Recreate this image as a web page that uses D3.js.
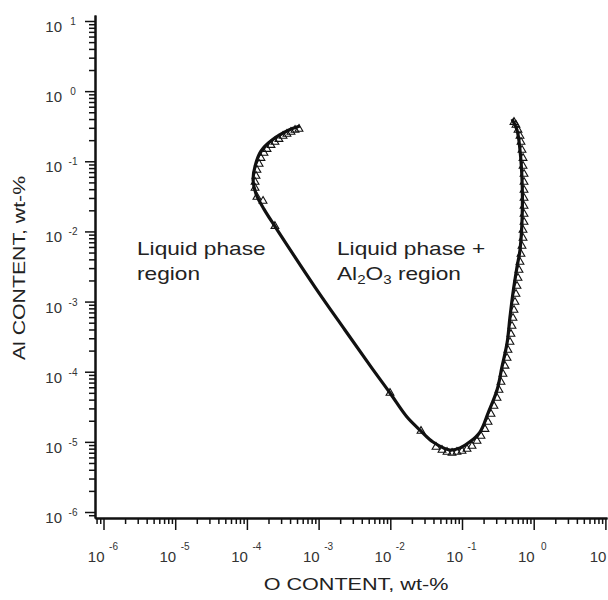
<!DOCTYPE html>
<html>
<head>
<meta charset="utf-8">
<script src="https://cdn.jsdelivr.net/npm/d3@7"></script>
<style>
  body { margin: 0; background: #fff; }
  svg { display: block; }
  text { font-family: "Liberation Sans", Arial, sans-serif; }
</style>
</head>
<body>
<div id="chart"></div>
<script>
// calculated solubility curve (wt-%)
var curveO = [5.5e-4, 3.86e-4, 2.24e-4, 1.57e-4, 1.30e-4, 1.22e-4, 1.34e-4, 1.73e-4, 2.55e-4,
    8.9e-4, 2.33e-3, 5.38e-3, 9.9e-3, 0.0171, 0.026, 0.0394, 0.068, 0.0938, 0.129, 0.178,
    0.231, 0.308, 0.361, 0.425, 0.467, 0.514, 0.585, 0.644, 0.69, 0.69, 0.644, 0.585, 0.498];
var curveAl = [0.318, 0.279, 0.201, 0.140, 0.0855, 0.054, 0.0341, 0.0208, 0.01117,
    1.61e-3, 3.93e-4, 1.17e-4, 4.97e-5, 2.26e-5, 1.47e-5, 9.96e-6, 7.66e-6, 8.17e-6, 1.0e-5, 1.38e-5,
    2.58e-5, 5.48e-5, 1.17e-4, 2.56e-4, 6.03e-4, 1.33e-3, 3.11e-3, 5.43e-3, 0.016, 0.049, 0.1445, 0.279, 0.40];

// triangle markers (wt-%)
var triO = [1.30e-4, 1.30e-4, 1.34e-4, 1.38e-4, 1.48e-4, 1.57e-4, 1.73e-4, 1.91e-4, 2.17e-4, 2.46e-4,
    2.80e-4, 3.19e-4, 3.62e-4, 4.12e-4, 4.69e-4, 5.33e-4, 1.38e-4, 1.68e-4, 2.46e-4, 9.9e-3, 0.0268,
    0.0434, 0.0526, 0.0618, 0.0726, 0.0851, 0.100, 0.1175, 0.138, 0.162, 0.184, 0.209, 0.231, 0.254,
    0.279, 0.308, 0.328, 0.350, 0.373, 0.398, 0.425, 0.438, 0.467, 0.482, 0.498, 0.514, 0.531, 0.548,
    0.566, 0.585, 0.604, 0.624, 0.644, 0.665, 0.687, 0.710, 0.710, 0.733, 0.733, 0.733, 0.733, 0.733,
    0.733, 0.733, 0.710, 0.710, 0.687, 0.665, 0.644, 0.604, 0.566, 0.531];
var triAl = [0.0416, 0.0506, 0.0616, 0.0750, 0.0914, 0.111, 0.131, 0.149, 0.170, 0.188,
    0.207, 0.229, 0.245, 0.261, 0.279, 0.288, 0.0309, 0.0271, 0.0119, 4.97e-5, 1.43e-5,
    8.45e-6, 7.66e-6, 7.16e-6, 6.93e-6, 7.16e-6, 7.41e-6, 7.91e-6, 8.73e-6, 1.03e-5, 1.21e-5, 1.52e-5, 1.92e-5, 2.49e-5,
    3.24e-5, 4.22e-5, 5.48e-5, 7.13e-5, 9.27e-5, 1.21e-4, 1.57e-4, 2.04e-4, 2.65e-4, 3.44e-4, 4.48e-4, 5.82e-4, 7.58e-4, 9.86e-4,
    1.28e-3, 1.67e-3, 2.17e-3, 2.82e-3, 3.66e-3, 4.76e-3, 6.19e-3, 8.05e-3, 0.0105, 0.0136, 0.0177, 0.0230, 0.0299, 0.0389,
    0.0506, 0.0658, 0.0855, 0.111, 0.1445, 0.188, 0.229, 0.279, 0.329, 0.362];

// decade tick values and exponents
var decades = [1e-6, 1e-5, 1e-4, 1e-3, 1e-2, 1e-1, 1e0, 1e1];
var exponents = ['-6', '-5', '-4', '-3', '-2', '-1', '0', '1'];

var svgWidth = 608;
var svgHeight = 600;

var margins = {
    top: 15,
    right: 1,
    bottom: 82,
    left: 95
};

var width = svgWidth - margins.left - margins.right
var height = svgHeight - margins.top - margins.bottom

var svg = d3.select('#chart')
    .append('svg')
    .attr('width', svgWidth)
    .attr('height', svgHeight)

var chartGroup = svg.append('g')
    .attr('transform', `translate(${margins.left},${margins.top})`)

var xScale = d3.scaleLog()
    .domain([Math.pow(10, -6.1186), Math.pow(10, 1.0223)])
    .range([0, width]);

var yScale = d3.scaleLog()
    .domain([Math.pow(10, -6.0855), Math.pow(10, 1.0855)])
    .range([height, 0]);

var isDecade = d => Math.abs(Math.log10(d) - Math.round(Math.log10(d))) < 1e-6;
var xMinor = xScale.ticks().filter(d => !isDecade(d));
var yMinor = yScale.ticks().filter(d => !isDecade(d));

// x axis: minor + major ticks
chartGroup.append('g')
    .attr('transform', `translate(0, ${height})`)
    .call(d3.axisBottom(xScale).tickValues(xMinor).tickSize(6).tickSizeOuter(0).tickFormat(''))
chartGroup.append('g')
    .attr('transform', `translate(0, ${height})`)
    .call(d3.axisBottom(xScale).tickValues(decades).tickSize(12).tickSizeOuter(0).tickFormat(''))

// y axis
chartGroup.append('g')
    .call(d3.axisLeft(yScale).tickValues(yMinor).tickSize(6).tickSizeOuter(0).tickFormat(''))
chartGroup.append('g')
    .call(d3.axisLeft(yScale).tickValues(decades).tickSize(10).tickSizeOuter(0).tickFormat(''))

chartGroup.selectAll('.domain').attr('stroke', '#111').attr('stroke-width', 2)
chartGroup.selectAll('.tick line').attr('stroke', '#111').attr('stroke-width', 1.5)

// tick labels
var xLabels = chartGroup.append('g').attr('fill', '#333')
decades.forEach(function (d, i) {
    xLabels.append('text')
        .attr('x', xScale(d) + 1)
        .attr('y', height + 44)
        .attr('text-anchor', 'end')
        .attr('font-size', 15)
        .text('10')
    xLabels.append('text')
        .attr('x', xScale(d) + 10)
        .attr('y', height + 32)
        .attr('text-anchor', 'middle')
        .attr('font-size', 10)
        .text(exponents[i])
});

var yLabels = chartGroup.append('g').attr('fill', '#333')
decades.forEach(function (d, i) {
    yLabels.append('text')
        .attr('x', -33)
        .attr('y', yScale(d) + 11)
        .attr('text-anchor', 'end')
        .attr('font-size', 15)
        .text('10')
    yLabels.append('text')
        .attr('x', -22)
        .attr('y', yScale(d) + 4)
        .attr('text-anchor', 'middle')
        .attr('font-size', 10)
        .text(exponents[i])
});

// axis titles
svg.append('text')
    .attr('transform', 'translate(356, 590) scale(1.27, 1)')
    .attr('text-anchor', 'middle')
    .attr('font-size', 17)
    .attr('fill', '#222')
    .text('O CONTENT, wt-%')

svg.append('text')
    .attr('transform', 'translate(25, 268) rotate(-90) scale(1.25, 1)')
    .attr('text-anchor', 'middle')
    .attr('font-size', 17)
    .attr('fill', '#222')
    .text('Al CONTENT, wt-%')

// curve
var points = curveO.map((o, i) => [o, curveAl[i]]);
var line = d3.line()
    .x(d => xScale(d[0]))
    .y(d => yScale(d[1]))
    .curve(d3.curveCatmullRom);

chartGroup.append('path')
    .datum(points)
    .attr('d', line)
    .attr('fill', 'none')
    .attr('stroke', '#111')
    .attr('stroke-width', 3.2)
    .attr('stroke-linejoin', 'round')

// triangles
var triangle = d3.symbol().type(d3.symbolTriangle).size(26);
chartGroup.selectAll('.tri')
    .data(triO.map((o, i) => [o, triAl[i]]))
    .enter()
    .append('path')
    .attr('class', 'tri')
    .attr('transform', d => `translate(${xScale(d[0])},${yScale(d[1])})`)
    .attr('d', triangle)
    .attr('fill', 'none')
    .attr('stroke', '#111')
    .attr('stroke-width', 1.1)

// region annotations
var notes = svg.append('g').attr('fill', '#222').attr('font-size', 18)
notes.append('text')
    .attr('transform', 'translate(137, 255) scale(1.26, 1)')
    .text('Liquid phase')
notes.append('text')
    .attr('transform', 'translate(137, 280) scale(1.26, 1)')
    .text('region')
notes.append('text')
    .attr('transform', 'translate(337, 255) scale(1.26, 1)')
    .text('Liquid phase +')
var alo = notes.append('text')
    .attr('transform', 'translate(337, 280) scale(1.26, 1)')
alo.append('tspan').text('Al')
alo.append('tspan').attr('font-size', 12).attr('dy', 4).text('2')
alo.append('tspan').attr('dy', -4).text('O')
alo.append('tspan').attr('font-size', 12).attr('dy', 4).text('3')
alo.append('tspan').attr('dy', -4).text(' region')
</script>
</body>
</html>
